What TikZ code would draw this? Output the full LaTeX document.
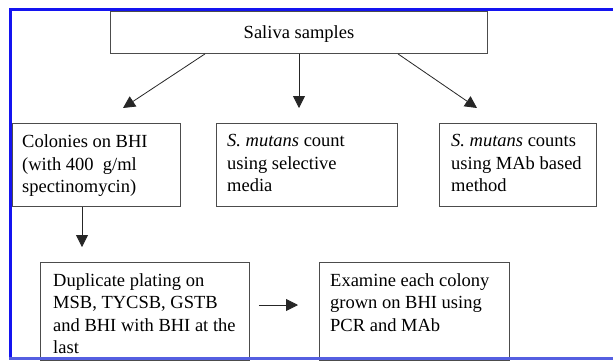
\documentclass[tikz,border=0pt]{standalone}
\usepackage{fontspec}
\setmainfont{Liberation Serif}
\usetikzlibrary{arrows.meta,calc}
\definecolor{frameblue}{RGB}{20,20,240}
\definecolor{frameblue2}{RGB}{85,95,225}
\begin{document}
\begin{tikzpicture}[x=1pt,y=-1pt,
  box/.style={draw=black!70, line width=0.9pt, inner sep=0pt, anchor=north west},
  txt/.style={anchor=north west, inner sep=0pt, align=left, font=\fontsize{18.5}{22.5}\selectfont},
  arr/.style={draw=black!85, line width=0.8pt, -{Triangle[length=12pt,width=12pt]}}]
\useasboundingbox (0,0) rectangle (613,360);
\fill[white] (0,0) rectangle (613,360);
% boxes
\node[box, minimum width=377pt, minimum height=42pt] (s) at (110,11) {};
\node[font=\fontsize{18.5}{22.5}\selectfont] (st) at ([yshift=-1.5pt]s.center) {Saliva samples};
\node[box, minimum width=168pt, minimum height=83pt] (b1) at (12,123) {};
\node[box, minimum width=181pt, minimum height=83pt] (b2) at (216,123) {};
\node[box, minimum width=157pt, minimum height=83pt] (b3) at (439,123) {};
\node[box, minimum width=209pt, minimum height=98pt] (b4) at (40,262) {};
\node[box, minimum width=190pt, minimum height=98pt] (b5) at (319,262) {};
% texts
\node[txt] (t1) at ([shift={(10pt,-11.5pt)}]b1.north west) {Colonies on BHI\\(with 400\ \ g/ml\\spectinomycin)};
\node[txt] (t2) at ([shift={(11pt,-11.5pt)}]b2.north west) {\textit{S. mutans} count\\using selective\\media};
\node[txt] (t3) at ([shift={(12pt,-11.5pt)}]b3.north west) {\textit{S. mutans} counts\\using MAb based\\method};
\node[txt] (t4) at ([shift={(13pt,-11pt)}]b4.north west) {Duplicate plating on\\MSB, TYCSB, GSTB\\and BHI with BHI at the\\last};
\node[txt] (t5) at ([shift={(11pt,-11pt)}]b5.north west) {Examine each colony\\grown on BHI using\\PCR and MAb};
% arrow ends
\coordinate (e1) at (123,108);
\coordinate (e2) at (299,108);
\coordinate (e3) at (477,108);
\coordinate (e4) at (82,247);
\coordinate (e5) at (298,305);
\draw[arr] (s.south west -| 205,0) -- (e1);
\draw[arr] (s.south west -| e2) -- (e2);
\draw[arr] (s.south west -| 398,0) -- (e3);
\draw[arr] (b1.south west -| e4) -- (e4);
\draw[arr] ([xshift=9pt]b4.east |- e5) -- (e5);
% frame
\draw[frameblue, line width=2.7pt] (10.5,9.5) -- (613,9.5);
\draw[frameblue, line width=2.7pt] (10.5,8.2) -- (10.5,358.5);
\draw[frameblue2, line width=2.5pt] (9.2,358.5) -- (613,358.5);
\end{tikzpicture}
\end{document}
